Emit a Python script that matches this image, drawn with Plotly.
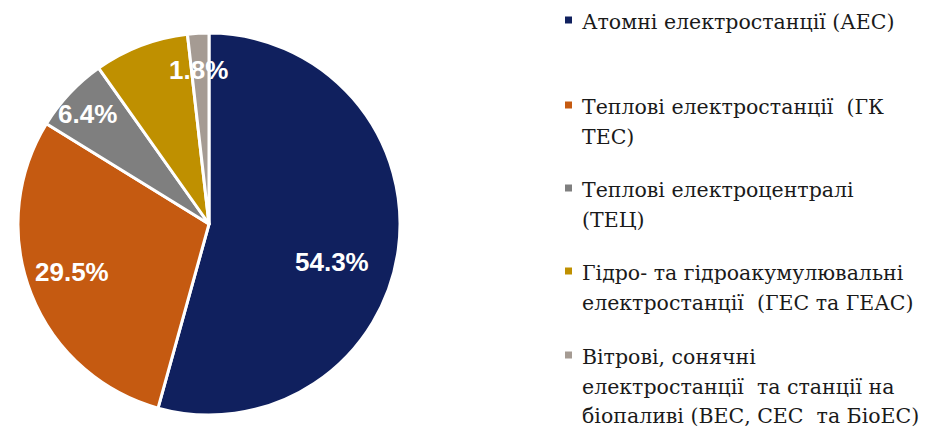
import plotly.graph_objects as go
import math

categories = [
    "Атомні електростанції (АЕС)",
    "Теплові електростанції  (ГК<br>ТЕС)",
    "Теплові електроцентралі<br>(ТЕЦ)",
    "Гідро- та гідроакумулювальні<br>електростанції  (ГЕС та ГЕАС)",
    "Вітрові, сонячні<br>електростанції  та станції на<br>біопаливі (ВЕС, СЕС  та БіоЕС)",
]
values = [54.3, 29.5, 6.4, 8.0, 1.8]
labels_text = ["54.3%", "29.5%", "6.4%", "", "1.8%"]
colors = ["#10205e", "#c55a11", "#7f7f7f", "#bf9000", "#a59b93"]

# label placement style (radius fraction, angular nudge in degrees)
label_r = [0.674, 0.76, 0.86, 0.0, 0.81]
label_da = [9.5, 2.0, -1.0, 0.0, -0.6]

W, H = 935, 436
OFF = 8  # page body margin
cx, cy, R = 209 - OFF, 224 - OFF, 191

fig = go.Figure()
fig.add_trace(go.Pie(
    labels=[c.replace("<br>", " ") for c in categories],
    values=values,
    textinfo="none",
    sort=False,
    direction="clockwise",
    rotation=0,
    marker=dict(colors=colors, line=dict(color="white", width=3)),
    domain=dict(x=[(cx - R) / W, (cx + R) / W], y=[1 - (cy + R) / H, 1 - (cy - R) / H]),
    showlegend=False,
    hoverinfo="label+percent",
))

annotations = []
total = sum(values)
cum = 0.0
for v, t, rf, da in zip(values, labels_text, label_r, label_da):
    mid = (cum + v / 2) / total * 360.0
    cum += v
    if not t:
        continue
    a = math.radians(mid + da)
    px = cx + rf * R * math.sin(a)
    py = cy - rf * R * math.cos(a)
    annotations.append(dict(
        x=px / W, y=1 - py / H, xref="paper", yref="paper",
        xanchor="center", yanchor="middle", showarrow=False, text=t,
        font=dict(family="Liberation Sans", size=26, color="white", weight="bold"),
    ))

# Custom legend (text annotations + square markers)
item_tops = [22, 107, 190, 273, 357]
line_gap = 29.5
shapes = []
for cat, col, y0 in zip(categories, colors, item_tops):
    lines = cat.split("<br>")
    for i, ln in enumerate(lines):
        yy = y0 - OFF + i * line_gap
        annotations.append(dict(
            x=(580 - OFF) / W, y=1 - yy / H, xref="paper", yref="paper",
            xanchor="left", yanchor="middle", showarrow=False,
            text=ln, font=dict(family="DejaVu Serif", size=20.5, color="#1a1a1a"),
        ))
    ym = 1 - (y0 - OFF - 2) / H
    shapes.append(dict(
        type="rect", xref="paper", yref="paper",
        x0=(565 - OFF) / W, x1=(572 - OFF) / W, y0=ym - 3.5 / H, y1=ym + 3.5 / H,
        fillcolor=col, line=dict(width=0),
    ))

fig.update_layout(
    width=W, height=H,
    margin=dict(l=0, r=0, t=0, b=0),
    paper_bgcolor="white", plot_bgcolor="white",
    annotations=annotations,
    shapes=shapes,
)
fig.write_html("out.html")
